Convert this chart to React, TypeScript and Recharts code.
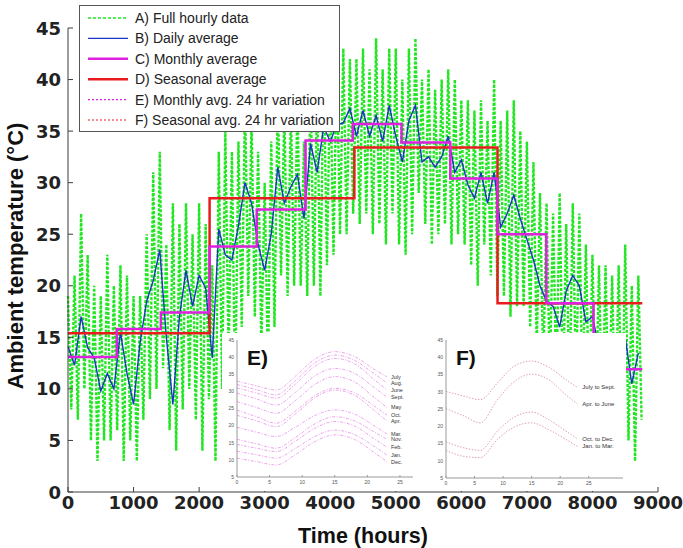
import { LineChart, Line, XAxis, YAxis } from "recharts";

// hourly data envelope, one high/low pair per 100 h block (0 .. 8700)
const hourlyHigh = [
  19, 21, 27, 23, 20, 19, 23, 20, 22, 21,
  19, 19, 25, 31, 33, 24, 28, 26, 28, 25,
  28, 26, 22, 33, 35, 33, 34, 38, 36, 33,
  30, 34, 39, 37, 37, 38, 34, 40, 39, 42,
  41, 42, 43, 42, 42, 43, 41, 44, 41, 43,
  43, 40, 43, 44, 40, 41, 39, 40, 41, 40,
  38, 38, 37, 38, 36, 40, 36, 37, 38, 35,
  34, 32, 29, 28, 27, 29, 26, 28, 27, 24,
  23, 22, 22, 21, 22, 24, 20, 21,
];
const hourlyLow = [
  8, 7, 10, 5, 3, 5, 5, 6, 3, 5,
  3, 7, 9, 10, 12, 6, 4, 8, 10, 7,
  4, 9, 3, 10, 13, 9, 16, 19, 17, 14,
  12, 16, 21, 19, 20, 20, 19, 20, 19, 22,
  23, 25, 25, 27, 26, 27, 25, 26, 24, 27,
  24, 23, 25, 29, 26, 24, 25, 26, 24, 25,
  24, 22, 20, 24, 21, 19, 19, 17, 18, 18,
  16, 14, 12, 11, 10, 9, 9, 10, 9, 8,
  7, 6, 6, 6, 5, 5, 3, 7,
];
// daily average, sampled every 100 h
const dailyTemp = [
  14.1, 12.3, 17, 14, 13, 9.8, 11.5, 10, 15.5, 11.5,
  8.5, 14.5, 18.5, 20.5, 23.5, 15, 8.5, 17, 21.5, 18,
  21, 19.8, 13, 25.5, 23, 22.5, 25.8, 30, 28, 24,
  21.5, 25, 31.5, 28, 29.6, 30.8, 26.5, 33.8, 31, 35.4,
  34, 35.6, 35.8, 37.2, 34.5, 37, 34.5, 36.5, 34, 37.5,
  34.5, 32, 36, 37.5, 32, 32.5, 31.5, 32.5, 34.5, 31,
  32.2, 29.8, 28.5, 31, 28, 31, 25.7, 27, 28.8, 26.5,
  24.5, 22.5, 20, 18.5, 18, 16, 19.5, 21, 20, 16.5,
  17, 14, 12.5, 13, 14, 15, 10.5, 13.5,
];
const monthStarts = [0, 744, 1416, 2160, 2880, 3624, 4344, 5088, 5832, 6552, 7296, 8016, 8760];
const monthlyTemp = [13.1, 15.8, 17.4, 23.8, 27.4, 34.1, 35.7, 33.9, 30.4, 25.0, 18.3, 11.9];
const seasonStarts = [0, 2160, 4368, 6552, 8760];
const seasonalTemp = [15.4, 28.5, 33.4, 18.3];

const xTicks = [0, 1000, 2000, 3000, 4000, 5000, 6000, 7000, 8000, 9000];
const yTicks = [0, 5, 10, 15, 20, 25, 30, 35, 40, 45];

const legendLabels = [
  "A) Full hourly data",
  "B) Daily average",
  "C) Monthly average",
  "D) Seasonal average",
  "E) Monthly avg. 24 hr variation",
  "F) Seasonal avg. 24 hr variation",
];

// inset curves: hour of day
const dayHours = [0, 3, 6, 9, 12, 15, 18, 21, 23];
const monthNames = ["July", "Aug.", "June", "Sept.", "May", "Oct.", "Apr.", "Mar.", "Nov.", "Feb.", "Jan.", "Dec."];
const monthlyProfiles = [
  [33, 31.6, 30.4, 34.5, 39.5, 41.6, 40.2, 36.5, 34.3],
  [32, 30.5, 29, 33.2, 38.4, 40.6, 39.1, 35.2, 32.5],
  [31, 29.5, 28, 32.2, 37.4, 39.6, 38.1, 33.5, 30.4],
  [29.5, 27.8, 26, 29.8, 34.6, 36.7, 35.3, 31.2, 28.3],
  [27, 25.3, 23.6, 27.4, 32.1, 34.3, 32.8, 28.3, 25.3],
  [24.5, 22.6, 20.7, 24.3, 28.8, 30.9, 29.6, 25.8, 23.1],
  [23, 21.4, 19.7, 23.5, 28.2, 30.4, 28.9, 24.5, 21.4],
  [19.5, 18.1, 16.8, 19.6, 23, 24.6, 23.4, 20, 17.6],
  [16, 14.7, 13.4, 16.6, 20.6, 22.6, 21.4, 18.2, 16],
  [14.5, 13.4, 12.4, 15.5, 19.3, 21.2, 19.9, 16.2, 13.7],
  [12.5, 11.5, 10.5, 13.4, 16.9, 18.7, 17.4, 14, 11.4],
  [10.5, 9.5, 8.5, 11.6, 15.4, 17.3, 16, 12.2, 9.5],
];
const seasonNames = ["July to Sept.", "Apr. to June", "Oct. to Dec.", "Jan. to Mar."];
const seasonalProfiles = [
  [30.1, 28.8, 27.7, 32.5, 37.5, 38.9, 37.1, 33.5, 31.3],
  [25.1, 23.1, 21, 27.7, 33, 35.1, 33.5, 29.1, 26.5],
  [15.5, 13.8, 13, 18.6, 22.7, 24.1, 21.9, 18.6, 16.4],
  [13, 11.3, 10.9, 16.2, 19.8, 21, 19, 16.2, 14.2],
];
const insetXTicks = [0, 5, 10, 15, 20, 25];
const insetYTicks = [5, 10, 15, 20, 25, 30, 35, 40, 45];

const GREEN = "#22e622";
const BLUE = "#1a35c4";
const MAGENTA = "#e020e0";
const RED = "#e81c1c";
const FRAME = "#3c3c3c";

const PLOT = { left: 68, top: 28, right: 658, bottom: 492 };

const hourlyData = hourlyHigh.flatMap((hi, i) => [
  { h: i * 100, v: hi },
  { h: i * 100 + 50, v: hourlyLow[i] },
]);
const dailyData = dailyTemp.map((v, i) => ({ h: i * 100, v }));
const monthlyData = monthStarts.map((h, i) => ({ h, v: monthlyTemp[Math.min(i, monthlyTemp.length - 1)] }));
const seasonalData = seasonStarts.map((h, i) => ({ h, v: seasonalTemp[Math.min(i, seasonalTemp.length - 1)] }));

const tickText = { fontFamily: "DejaVu Sans", fontWeight: 700, fontSize: 18, fill: "#222" };

const BottomTick = ({ x, payload }: any) => (
  <g>
    <line x1={x} x2={x} y1={PLOT.bottom} y2={PLOT.bottom - 5} stroke={FRAME} />
    <text x={x} y={509} textAnchor="middle" {...tickText}>{payload.value}</text>
  </g>
);
const TopTick = ({ x }: any) => (
  <line x1={x} x2={x} y1={PLOT.top} y2={PLOT.top + 5} stroke={FRAME} />
);
const LeftTick = ({ y, payload }: any) => (
  <g>
    <line x1={PLOT.left} x2={PLOT.left + 5} y1={y} y2={y} stroke={FRAME} />
    <text x={61} y={y + 6.5} textAnchor="end" {...tickText}>{payload.value}</text>
  </g>
);
const RightTick = ({ y }: any) => (
  <line x1={PLOT.right} x2={PLOT.right - 5} y1={y} y2={y} stroke={FRAME} />
);

const legendStyles = [
  { color: GREEN, width: 1.6, dash: "3 2" },
  { color: BLUE, width: 1.2, dash: undefined },
  { color: MAGENTA, width: 2.5, dash: undefined },
  { color: RED, width: 2.5, dash: undefined },
  { color: MAGENTA, width: 1.2, dash: "2 2" },
  { color: RED, width: 1.2, dash: "2 2" },
];

function LegendBox() {
  return (
    <svg
      width={261}
      height={127}
      style={{ position: "absolute", left: 79, top: 5, background: "#fff" }}
    >
      <rect x={0.5} y={0.5} width={260} height={126} fill="#fff" stroke="#555" />
      {legendLabels.map((label, i) => {
        const cy = 13 + i * 20.4;
        const s = legendStyles[i];
        return (
          <g key={label}>
            <line x1={9} x2={49} y1={cy} y2={cy} stroke={s.color} strokeWidth={s.width} strokeDasharray={s.dash} />
            <text x={56} y={cy + 5} fontFamily="Liberation Sans" fontSize={14} fill="#222">{label}</text>
          </g>
        );
      })}
    </svg>
  );
}

type InsetProps = {
  left: number;
  top: number;
  width: number;
  height: number;
  frame: { l: number; t: number; r: number; b: number };
  xMax: number;
  tag: string;
  names: string[];
  profiles: number[][];
  stroke: string;
  dash: string;
  labelSize: number;
  labelDx: number;
};

function Inset(p: InsetProps) {
  const rel = { l: p.frame.l - p.left, t: p.frame.t - p.top, r: p.frame.r - p.left, b: p.frame.b - p.top };
  const rows = dayHours.map((t, j) => {
    const row: Record<string, number> = { t };
    p.profiles.forEach((arr, k) => (row["c" + k] = arr[j]));
    return row;
  });
  const small = { fontFamily: "Liberation Sans", fontSize: 5, fill: "#555" };
  const endLabel = (name: string) => (props: any) => {
    if (props.index !== dayHours.length - 1) return null;
    return (
      <text x={props.x + p.labelDx} y={props.y + p.labelSize * 0.35} fontFamily="Liberation Sans" fontSize={p.labelSize} fill="#333">
        {name}
      </text>
    );
  };
  return (
    <div style={{ position: "absolute", left: p.left, top: p.top, width: p.width, height: p.height, background: "#fff" }}>
      <LineChart width={p.width} height={p.height} data={rows} margin={{ top: rel.t, right: p.width - rel.r, left: 0, bottom: 0 }}>
        <XAxis
          xAxisId="b"
          type="number"
          dataKey="t"
          domain={[0, p.xMax]}
          ticks={insetXTicks}
          interval={0}
          height={p.height - rel.b}
          tickSize={0}
          tickLine={false}
          axisLine={{ stroke: "#999" }}
          tick={({ x, payload }: any) => (
            <g>
              <line x1={x} x2={x} y1={rel.b} y2={rel.b - 2} stroke="#999" />
              <text x={x} y={rel.b + 7} textAnchor="middle" {...small}>{payload.value}</text>
            </g>
          )}
        />
        <XAxis
          xAxisId="t"
          orientation="top"
          type="number"
          domain={[0, p.xMax]}
          ticks={insetXTicks}
          interval={0}
          height={0}
          tickSize={0}
          tickLine={false}
          axisLine={{ stroke: "#999" }}
          tick={({ x }: any) => <line x1={x} x2={x} y1={rel.t} y2={rel.t + 2} stroke="#999" />}
        />
        <YAxis
          yAxisId="l"
          type="number"
          domain={[5, 45]}
          ticks={insetYTicks}
          interval={0}
          width={rel.l}
          tickSize={0}
          tickLine={false}
          axisLine={{ stroke: "#999" }}
          tick={({ y, payload }: any) => (
            <text x={rel.l - 3} y={y + 1.8} textAnchor="end" {...small}>{payload.value}</text>
          )}
        />
        <YAxis
          yAxisId="r"
          orientation="right"
          type="number"
          domain={[5, 45]}
          width={0}
          tick={false}
          tickLine={false}
          axisLine={{ stroke: "#999" }}
        />
        {p.profiles.map((_, k) => (
          <Line
            key={k}
            xAxisId="b"
            yAxisId="l"
            dataKey={"c" + k}
            type="monotone"
            stroke={p.stroke}
            strokeWidth={0.8}
            strokeDasharray={p.dash}
            dot={false}
            label={endLabel(p.names[k])}
            isAnimationActive={false}
          />
        ))}
      </LineChart>
      <span
        style={{
          position: "absolute",
          left: rel.l + 10,
          top: rel.t + 7,
          fontFamily: "Liberation Sans",
          fontWeight: 700,
          fontSize: 21,
          lineHeight: "21px",
          color: "#111",
        }}
      >
        {p.tag}
      </span>
    </div>
  );
}

export default function App() {
  return (
    <div style={{ position: "fixed", left: 0, top: 0, width: 683, height: 548, background: "#fff", overflow: "hidden" }}>
      <LineChart width={683} height={548} margin={{ top: PLOT.top, right: 683 - PLOT.right, left: 0, bottom: 0 }}>
        <XAxis
          xAxisId="b"
          type="number"
          dataKey="h"
          domain={[0, 9000]}
          ticks={xTicks}
          interval={0}
          height={548 - PLOT.bottom}
          tickSize={0}
          tickLine={false}
          axisLine={{ stroke: FRAME }}
          tick={BottomTick}
        />
        <XAxis
          xAxisId="t"
          orientation="top"
          type="number"
          domain={[0, 9000]}
          ticks={xTicks}
          interval={0}
          height={0}
          tickSize={0}
          tickLine={false}
          axisLine={{ stroke: FRAME }}
          tick={TopTick}
        />
        <YAxis
          yAxisId="l"
          type="number"
          domain={[0, 45]}
          ticks={yTicks}
          interval={0}
          width={PLOT.left}
          tickSize={0}
          tickLine={false}
          axisLine={{ stroke: FRAME }}
          tick={LeftTick}
        />
        <YAxis
          yAxisId="r"
          orientation="right"
          type="number"
          domain={[0, 45]}
          ticks={yTicks}
          interval={0}
          width={0}
          tickSize={0}
          tickLine={false}
          axisLine={{ stroke: FRAME }}
          tick={RightTick}
        />
        <Line
          data={hourlyData}
          xAxisId="b"
          yAxisId="l"
          dataKey="v"
          type="linear"
          stroke={GREEN}
          strokeWidth={2.4}
          strokeDasharray="3 1.5"
          dot={false}
          isAnimationActive={false}
        />
        <Line
          data={dailyData}
          xAxisId="b"
          yAxisId="l"
          dataKey="v"
          type="linear"
          stroke={BLUE}
          strokeWidth={1.4}
          dot={false}
          isAnimationActive={false}
        />
        <Line
          data={seasonalData}
          xAxisId="b"
          yAxisId="l"
          dataKey="v"
          type="stepAfter"
          stroke={RED}
          strokeWidth={2.5}
          dot={false}
          isAnimationActive={false}
        />
        <Line
          data={monthlyData}
          xAxisId="b"
          yAxisId="l"
          dataKey="v"
          type="stepAfter"
          stroke={MAGENTA}
          strokeWidth={2.5}
          dot={false}
          isAnimationActive={false}
        />
      </LineChart>

      <Inset
        left={222}
        top={333}
        width={194}
        height={158}
        frame={{ l: 237, t: 340, r: 413, b: 477 }}
        xMax={27}
        tag="E)"
        names={monthNames}
        profiles={monthlyProfiles}
        stroke="#e88ce8"
        dash="3 1.5 1 1.5"
        labelSize={5.5}
        labelDx={4}
      />
      <Inset
        left={432}
        top={333}
        width={194}
        height={158}
        frame={{ l: 446, t: 340, r: 623, b: 478 }}
        xMax={31}
        tag="F)"
        names={seasonNames}
        profiles={seasonalProfiles}
        stroke="#d88a98"
        dash="1.5 1.5"
        labelSize={6}
        labelDx={5}
      />

      <LegendBox />

      <svg width={683} height={548} style={{ position: "absolute", left: 0, top: 0, pointerEvents: "none" }}>
        <text
          x={23}
          y={256}
          transform="rotate(-90 23 256)"
          textAnchor="middle"
          fontFamily="Liberation Sans"
          fontWeight={700}
          fontSize={22}
          fill="#111"
        >
          Ambient temperature (°C)
        </text>
        <text x={363} y={543} textAnchor="middle" fontFamily="Liberation Sans" fontWeight={700} fontSize={21.5} fill="#111">
          Time (hours)
        </text>
      </svg>
    </div>
  );
}
